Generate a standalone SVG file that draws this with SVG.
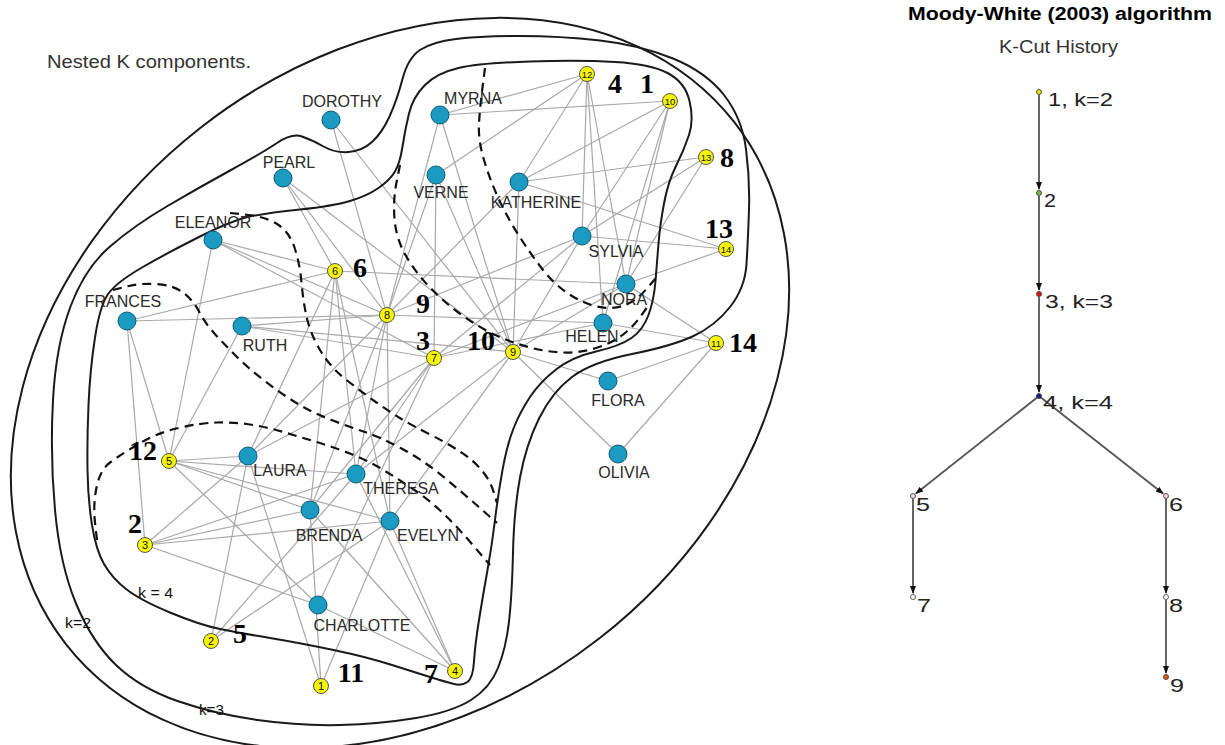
<svg xmlns="http://www.w3.org/2000/svg" width="1225" height="745" viewBox="0 0 1225 745">
<defs>
<style>
.edge{stroke:#a9a9a9;stroke-width:1.2}
.contour{fill:none;stroke:#1a1a1a;stroke-width:2}
.dash{fill:none;stroke:#111;stroke-width:2.2;stroke-dasharray:9 6}
.woman circle{fill:#1b9ac2;stroke:#0e5c75;stroke-width:1}
.lbl{font-family:"Liberation Sans",Arial,sans-serif;font-size:16px;fill:#2a2a2a;text-anchor:middle}
.event circle{fill:#f5f500;stroke:#555;stroke-width:1}
.evnum{font-family:"Liberation Sans",Arial,sans-serif;font-size:11px;text-anchor:middle;fill:#111}
.ev2{font-size:9.5px}
.ann{font-family:"Liberation Serif","Times New Roman",serif;font-weight:bold;font-size:28px;text-anchor:middle;fill:#000}
.klbl{font-family:"Liberation Sans",Arial,sans-serif;fill:#111}
.tedge{stroke:#555;stroke-width:1.8;marker-end:url(#arr)}
.tnode{stroke:#333;stroke-width:0.8}
.tlbl{font-family:"Liberation Sans",Arial,sans-serif;font-size:19px;fill:#222}
</style>
<marker id="arr" markerUnits="userSpaceOnUse" markerWidth="8" markerHeight="6" refX="7" refY="3" orient="auto">
<path d="M0,0 L8,3 L0,6 z" fill="#111"/>
</marker>
</defs>
<rect width="1225" height="745" fill="#fff"/>

<text x="47" y="68" font-family="Liberation Sans, Arial, sans-serif" font-size="19" fill="#333" textLength="204" lengthAdjust="spacingAndGlyphs">Nested K components.</text>

<g id="connectors">
<line class="edge" x1="390" y1="521" x2="321" y2="686"/>
<line class="edge" x1="390" y1="521" x2="211" y2="641"/>
<line class="edge" x1="390" y1="521" x2="145" y2="545"/>
<line class="edge" x1="390" y1="521" x2="455" y2="671"/>
<line class="edge" x1="390" y1="521" x2="169" y2="461"/>
<line class="edge" x1="390" y1="521" x2="335" y2="271"/>
<line class="edge" x1="390" y1="521" x2="387" y2="315"/>
<line class="edge" x1="390" y1="521" x2="513" y2="352"/>
<line class="edge" x1="248" y1="456" x2="321" y2="686"/>
<line class="edge" x1="248" y1="456" x2="211" y2="641"/>
<line class="edge" x1="248" y1="456" x2="145" y2="545"/>
<line class="edge" x1="248" y1="456" x2="169" y2="461"/>
<line class="edge" x1="248" y1="456" x2="335" y2="271"/>
<line class="edge" x1="248" y1="456" x2="434" y2="358"/>
<line class="edge" x1="248" y1="456" x2="387" y2="315"/>
<line class="edge" x1="356" y1="474" x2="211" y2="641"/>
<line class="edge" x1="356" y1="474" x2="145" y2="545"/>
<line class="edge" x1="356" y1="474" x2="455" y2="671"/>
<line class="edge" x1="356" y1="474" x2="169" y2="461"/>
<line class="edge" x1="356" y1="474" x2="335" y2="271"/>
<line class="edge" x1="356" y1="474" x2="434" y2="358"/>
<line class="edge" x1="356" y1="474" x2="387" y2="315"/>
<line class="edge" x1="356" y1="474" x2="513" y2="352"/>
<line class="edge" x1="310" y1="510" x2="321" y2="686"/>
<line class="edge" x1="310" y1="510" x2="145" y2="545"/>
<line class="edge" x1="310" y1="510" x2="455" y2="671"/>
<line class="edge" x1="310" y1="510" x2="169" y2="461"/>
<line class="edge" x1="310" y1="510" x2="335" y2="271"/>
<line class="edge" x1="310" y1="510" x2="434" y2="358"/>
<line class="edge" x1="310" y1="510" x2="387" y2="315"/>
<line class="edge" x1="318" y1="605" x2="145" y2="545"/>
<line class="edge" x1="318" y1="605" x2="455" y2="671"/>
<line class="edge" x1="318" y1="605" x2="169" y2="461"/>
<line class="edge" x1="318" y1="605" x2="434" y2="358"/>
<line class="edge" x1="127" y1="321" x2="145" y2="545"/>
<line class="edge" x1="127" y1="321" x2="169" y2="461"/>
<line class="edge" x1="127" y1="321" x2="335" y2="271"/>
<line class="edge" x1="127" y1="321" x2="387" y2="315"/>
<line class="edge" x1="213" y1="240" x2="169" y2="461"/>
<line class="edge" x1="213" y1="240" x2="335" y2="271"/>
<line class="edge" x1="213" y1="240" x2="434" y2="358"/>
<line class="edge" x1="213" y1="240" x2="387" y2="315"/>
<line class="edge" x1="283" y1="178" x2="335" y2="271"/>
<line class="edge" x1="283" y1="178" x2="387" y2="315"/>
<line class="edge" x1="283" y1="178" x2="513" y2="352"/>
<line class="edge" x1="242" y1="326" x2="169" y2="461"/>
<line class="edge" x1="242" y1="326" x2="434" y2="358"/>
<line class="edge" x1="242" y1="326" x2="387" y2="315"/>
<line class="edge" x1="242" y1="326" x2="513" y2="352"/>
<line class="edge" x1="436" y1="175" x2="434" y2="358"/>
<line class="edge" x1="436" y1="175" x2="387" y2="315"/>
<line class="edge" x1="436" y1="175" x2="513" y2="352"/>
<line class="edge" x1="436" y1="175" x2="587" y2="74"/>
<line class="edge" x1="440" y1="115" x2="387" y2="315"/>
<line class="edge" x1="440" y1="115" x2="513" y2="352"/>
<line class="edge" x1="440" y1="115" x2="670" y2="101"/>
<line class="edge" x1="440" y1="115" x2="587" y2="74"/>
<line class="edge" x1="519" y1="182" x2="387" y2="315"/>
<line class="edge" x1="519" y1="182" x2="513" y2="352"/>
<line class="edge" x1="519" y1="182" x2="670" y2="101"/>
<line class="edge" x1="519" y1="182" x2="587" y2="74"/>
<line class="edge" x1="519" y1="182" x2="706" y2="157"/>
<line class="edge" x1="519" y1="182" x2="726" y2="249"/>
<line class="edge" x1="582" y1="236" x2="434" y2="358"/>
<line class="edge" x1="582" y1="236" x2="387" y2="315"/>
<line class="edge" x1="582" y1="236" x2="513" y2="352"/>
<line class="edge" x1="582" y1="236" x2="670" y2="101"/>
<line class="edge" x1="582" y1="236" x2="587" y2="74"/>
<line class="edge" x1="582" y1="236" x2="706" y2="157"/>
<line class="edge" x1="582" y1="236" x2="726" y2="249"/>
<line class="edge" x1="626" y1="284" x2="335" y2="271"/>
<line class="edge" x1="626" y1="284" x2="434" y2="358"/>
<line class="edge" x1="626" y1="284" x2="513" y2="352"/>
<line class="edge" x1="626" y1="284" x2="670" y2="101"/>
<line class="edge" x1="626" y1="284" x2="716" y2="343"/>
<line class="edge" x1="626" y1="284" x2="587" y2="74"/>
<line class="edge" x1="626" y1="284" x2="706" y2="157"/>
<line class="edge" x1="626" y1="284" x2="726" y2="249"/>
<line class="edge" x1="603" y1="323" x2="434" y2="358"/>
<line class="edge" x1="603" y1="323" x2="387" y2="315"/>
<line class="edge" x1="603" y1="323" x2="670" y2="101"/>
<line class="edge" x1="603" y1="323" x2="716" y2="343"/>
<line class="edge" x1="603" y1="323" x2="587" y2="74"/>
<line class="edge" x1="331" y1="120" x2="387" y2="315"/>
<line class="edge" x1="331" y1="120" x2="513" y2="352"/>
<line class="edge" x1="618" y1="454" x2="513" y2="352"/>
<line class="edge" x1="618" y1="454" x2="716" y2="343"/>
<line class="edge" x1="608" y1="381" x2="513" y2="352"/>
<line class="edge" x1="608" y1="381" x2="716" y2="343"/>
</g>

<g id="components">
<ellipse id="k2" class="contour" cx="0" cy="0" rx="424" ry="324" transform="translate(400,383) rotate(-38)"/>
<path id="k3" class="contour" d="M402.5,79 Q408,58 420,50 Q432,42 456,39 Q480,36 520,36 Q560,36 600,40.5 Q640,45 673,58.5 Q706,72 724,95 Q742,118 746,149 Q750,180 749,210 Q748,240 746.5,264 Q745,288 730,307 Q715,326 693.5,336 Q672,346 632,354 Q592,362 572,377 Q552,392 539,418.5 Q526,445 520,477.5 Q514,510 513,552.5 Q512,595 509,621.5 Q506,648 498,668 Q490,688 471,700 Q452,712 416,718 Q380,724 340,725 Q300,726 257.5,720 Q215,714 177.5,701 Q140,688 116,665 Q92,642 76,603.5 Q60,565 55,510 Q50,455 53,400 Q56,345 70.5,306.5 Q85,268 110,246.5 Q135,225 167.5,206 Q200,187 231,170 Q262,153 277,143 Q292,133 302,136.5 Q312,140 323.5,146.5 Q335,153 348.5,152 Q362,151 372,142 Q382,133 389.5,116.5 Q397,100 402.5,79 Z"/>
<path id="k4" class="contour" d="M395,171.5 Q400,163 402.5,146.5 Q405,130 409,113.5 Q413,97 425,85 Q437,73 458.5,68 Q480,63 530,61.5 Q580,60 615,62 Q650,64 667.5,73 Q685,82 689.5,101 Q694,120 689,135 Q684,150 676,166 Q668,182 664,203.5 Q660,225 658.5,243.5 Q657,262 655.5,281 Q654,300 648.5,315 Q643,330 631.5,338 Q620,346 596,351.5 Q572,357 556,369.5 Q540,382 530,397 Q520,412 513.5,428.5 Q507,445 502.5,470 Q498,495 495,520 Q492,545 487.5,570 Q483,595 479,620 Q475,645 474,661.5 Q473,678 467.5,682 Q462,686 454,684 Q446,682 431.5,677.5 Q417,673 392,665 Q367,657 333.5,650 Q300,643 270,638 Q240,633 220,629 Q200,625 170,612.5 Q140,600 126,589 Q112,578 104,564 Q96,550 92,525 Q88,500 87.5,470 Q87,440 88.5,405 Q90,370 95,337.5 Q100,305 108.5,293.5 Q117,282 142,267.5 Q167,253 200,236.5 Q233,220 250,216.5 Q267,213 300,209.5 Q333,206 350,201 Q367,196 378.5,188 Q390,180 395,171.5 Z"/>
<path id="dashA" class="dash" d="M485,68 L482.5,87.5 Q480,107 479,123.5 Q478,140 484,160 Q490,180 498.5,198.5 Q507,217 518.5,235 Q530,253 541.5,268 Q553,283 566.5,292.5 Q580,302 595,306 Q610,310 622.5,306 Q635,302 646,289.5 L657,277"/>
<path id="dashB" class="dash" d="M400,165 L396.5,182.5 Q393,200 394.5,219 Q396,238 405.5,255 Q415,272 430,287.5 Q445,303 462.5,315.5 Q480,328 496.5,335.5 Q513,343 530,347.5 Q547,352 563.5,352.5 Q580,353 596,348 Q612,343 622.5,335 Q633,327 640.5,316.5 L648,306"/>
<path id="dashC" class="dash" d="M230,213 L248.5,215 Q267,217 278.5,225 Q290,233 295,249 Q300,265 301.5,282.5 Q303,300 306.5,316.5 Q310,333 320,350 Q330,367 346.5,380 Q363,393 376.5,402.5 Q390,412 401.5,419 Q413,426 430,434.5 Q447,443 460,451.5 Q473,460 481.5,470 Q490,480 493.5,491.5 L497,503"/>
<path id="dashD" class="dash" d="M113,290 L126.5,286.5 Q140,283 156.5,284 Q173,285 183,292.5 Q193,300 199,311.5 Q205,323 214,333 Q223,343 235,355 Q247,367 263.5,380 Q280,393 296.5,403 Q313,413 331.5,420 Q350,427 365,432 Q380,437 401.5,448.5 Q423,460 443,476.5 Q463,493 480,508 L497,523"/>
<path id="dashE" class="dash" d="M97,540 L95,522.5 Q93,505 96.5,487.5 Q100,470 110,462.5 Q120,455 138.5,444 Q157,433 178.5,428 Q200,423 216.5,422.5 Q233,422 250,424.5 Q267,427 283.5,432 Q300,437 316.5,442 Q333,447 350,453.5 Q367,460 383.5,470 Q400,480 416.5,491.5 Q433,503 446.5,516.5 Q460,530 475,547.5 L490,565"/>
<text class="klbl" x="138" y="598" font-size="14" fill="#333" textLength="35" lengthAdjust="spacingAndGlyphs">k = 4</text>
<text class="klbl" x="65" y="628" font-size="15" textLength="26" lengthAdjust="spacingAndGlyphs">k=2</text>
<text class="klbl" x="199" y="715" font-size="15" textLength="25" lengthAdjust="spacingAndGlyphs">k=3</text>
</g>

<g id="n-dorothy" class="woman"><circle cx="331" cy="120" r="9"/><text class="lbl" x="342" y="107">DOROTHY</text></g>
<g id="n-myrna" class="woman"><circle cx="440" cy="115" r="9"/><text class="lbl" x="473" y="104">MYRNA</text></g>
<g id="n-pearl" class="woman"><circle cx="283" cy="178" r="9"/><text class="lbl" x="289" y="168">PEARL</text></g>
<g id="n-verne" class="woman"><circle cx="436" cy="175" r="9"/><text class="lbl" x="441" y="198">VERNE</text></g>
<g id="n-katherine" class="woman"><circle cx="519" cy="182" r="9"/><text class="lbl" x="536" y="208">KATHERINE</text></g>
<g id="n-eleanor" class="woman"><circle cx="213" cy="240" r="9"/><text class="lbl" x="213" y="228">ELEANOR</text></g>
<g id="n-sylvia" class="woman"><circle cx="582" cy="236" r="9"/><text class="lbl" x="616" y="257">SYLVIA</text></g>
<g id="n-nora" class="woman"><circle cx="626" cy="284" r="9"/><text class="lbl" x="624" y="305">NORA</text></g>
<g id="n-frances" class="woman"><circle cx="127" cy="321" r="9"/><text class="lbl" x="123" y="307">FRANCES</text></g>
<g id="n-ruth" class="woman"><circle cx="242" cy="326" r="9"/><text class="lbl" x="265" y="351">RUTH</text></g>
<g id="n-helen" class="woman"><circle cx="603" cy="323" r="9"/><text class="lbl" x="592" y="342">HELEN</text></g>
<g id="n-flora" class="woman"><circle cx="608" cy="381" r="9"/><text class="lbl" x="618" y="406">FLORA</text></g>
<g id="n-olivia" class="woman"><circle cx="618" cy="454" r="9"/><text class="lbl" x="624" y="478">OLIVIA</text></g>
<g id="n-laura" class="woman"><circle cx="248" cy="456" r="9"/><text class="lbl" x="280" y="476">LAURA</text></g>
<g id="n-theresa" class="woman"><circle cx="356" cy="474" r="9"/><text class="lbl" x="401" y="494">THERESA</text></g>
<g id="n-brenda" class="woman"><circle cx="310" cy="510" r="9"/><text class="lbl" x="329" y="541">BRENDA</text></g>
<g id="n-evelyn" class="woman"><circle cx="390" cy="521" r="9"/><text class="lbl" x="428" y="541">EVELYN</text></g>
<g id="n-charlotte" class="woman"><circle cx="318" cy="605" r="9"/><text class="lbl" x="362" y="631">CHARLOTTE</text></g>

<g id="e1" class="event"><circle cx="321" cy="686" r="7.5"/><text class="evnum" x="321" y="690">1</text></g>
<g id="e2" class="event"><circle cx="211" cy="641" r="7.5"/><text class="evnum" x="211" y="645">2</text></g>
<g id="e3" class="event"><circle cx="145" cy="545" r="7.5"/><text class="evnum" x="145" y="549">3</text></g>
<g id="e4" class="event"><circle cx="455" cy="671" r="7.5"/><text class="evnum" x="455" y="675">4</text></g>
<g id="e5" class="event"><circle cx="169" cy="461" r="7.5"/><text class="evnum" x="169" y="465">5</text></g>
<g id="e6" class="event"><circle cx="335" cy="271" r="7.5"/><text class="evnum" x="335" y="275">6</text></g>
<g id="e7" class="event"><circle cx="434" cy="358" r="7.5"/><text class="evnum" x="434" y="362">7</text></g>
<g id="e8" class="event"><circle cx="387" cy="315" r="7.5"/><text class="evnum" x="387" y="319">8</text></g>
<g id="e9" class="event"><circle cx="513" cy="352" r="7.5"/><text class="evnum" x="513" y="356">9</text></g>
<g id="e10" class="event"><circle cx="670" cy="101" r="7.5"/><text class="evnum ev2" x="670" y="104.5">10</text></g>
<g id="e11" class="event"><circle cx="716" cy="343" r="7.5"/><text class="evnum ev2" x="716" y="346.5">11</text></g>
<g id="e12" class="event"><circle cx="587" cy="74" r="7.5"/><text class="evnum ev2" x="587" y="77.5">12</text></g>
<g id="e13" class="event"><circle cx="706" cy="157" r="7.5"/><text class="evnum ev2" x="706" y="160.5">13</text></g>
<g id="e14" class="event"><circle cx="726" cy="249" r="7.5"/><text class="evnum ev2" x="726" y="252.5">14</text></g>

<g id="annotations">
<text class="ann" x="615" y="93">4</text>
<text class="ann" x="647" y="93">1</text>
<text class="ann" x="727" y="167">8</text>
<text class="ann" x="719" y="238">13</text>
<text class="ann" x="423" y="313">9</text>
<text class="ann" x="423" y="350">3</text>
<text class="ann" x="481" y="350">10</text>
<text class="ann" x="743" y="352">14</text>
<text class="ann" x="360" y="277">6</text>
<text class="ann" x="143" y="460">12</text>
<text class="ann" x="135" y="533">2</text>
<text class="ann" x="240" y="643">5</text>
<text class="ann" x="351" y="682">11</text>
<text class="ann" x="431" y="683">7</text>
</g>

<text x="908" y="20" font-family="Liberation Sans, Arial, sans-serif" font-weight="bold" font-size="18" fill="#000" textLength="304" lengthAdjust="spacingAndGlyphs">Moody-White (2003) algorithm</text>
<text x="999" y="53" font-family="Liberation Sans, Arial, sans-serif" font-size="18" fill="#333" textLength="119" lengthAdjust="spacingAndGlyphs">K-Cut History</text>

<g id="tree-connectors">
<line class="tedge" x1="1039" y1="95" x2="1039" y2="189"/>
<line class="tedge" x1="1039" y1="196" x2="1039" y2="290"/>
<line class="tedge" x1="1039" y1="297" x2="1039" y2="392"/>
<line class="tedge" x1="1039" y1="396" x2="916" y2="493.5"/>
<line class="tedge" x1="1039" y1="396" x2="1163" y2="493.5"/>
<line class="tedge" x1="913" y1="499" x2="913" y2="593"/>
<line class="tedge" x1="1166" y1="499" x2="1166" y2="593"/>
<line class="tedge" x1="1166" y1="600" x2="1166" y2="673"/>
</g>
<g id="t1"><circle class="tnode" cx="1039" cy="92" r="2.5" fill="#e6e600"/><text class="tlbl" x="1048" y="106" textLength="65" lengthAdjust="spacingAndGlyphs">1, k=2</text></g>
<g id="t2"><circle class="tnode" cx="1039" cy="193" r="2.5" fill="#7fb83a"/><text class="tlbl" x="1044" y="207" textLength="12" lengthAdjust="spacingAndGlyphs">2</text></g>
<g id="t3"><circle class="tnode" cx="1039" cy="294" r="2.5" fill="#e01010"/><text class="tlbl" x="1045" y="308" textLength="68" lengthAdjust="spacingAndGlyphs">3, k=3</text></g>
<g id="t4"><circle class="tnode" cx="1039" cy="396" r="2.5" fill="#1a1a80"/><text class="tlbl" x="1043" y="409" textLength="70" lengthAdjust="spacingAndGlyphs">4, k=4</text></g>
<g id="t5"><circle class="tnode" cx="913" cy="496" r="2.5" fill="#f2d4e4"/><text class="tlbl" x="916" y="511" textLength="14" lengthAdjust="spacingAndGlyphs">5</text></g>
<g id="t6"><circle class="tnode" cx="1166" cy="496" r="2.5" fill="#f2d4e4"/><text class="tlbl" x="1169" y="511" textLength="14" lengthAdjust="spacingAndGlyphs">6</text></g>
<g id="t7"><circle class="tnode" cx="913" cy="597" r="2.5" fill="#fff"/><text class="tlbl" x="917" y="612" textLength="14" lengthAdjust="spacingAndGlyphs">7</text></g>
<g id="t8"><circle class="tnode" cx="1166" cy="597" r="2.5" fill="#fff"/><text class="tlbl" x="1169" y="612" textLength="14" lengthAdjust="spacingAndGlyphs">8</text></g>
<g id="t9"><circle class="tnode" cx="1166" cy="677" r="2.5" fill="#e05a1a"/><text class="tlbl" x="1170" y="692" textLength="14" lengthAdjust="spacingAndGlyphs">9</text></g>
</svg>
